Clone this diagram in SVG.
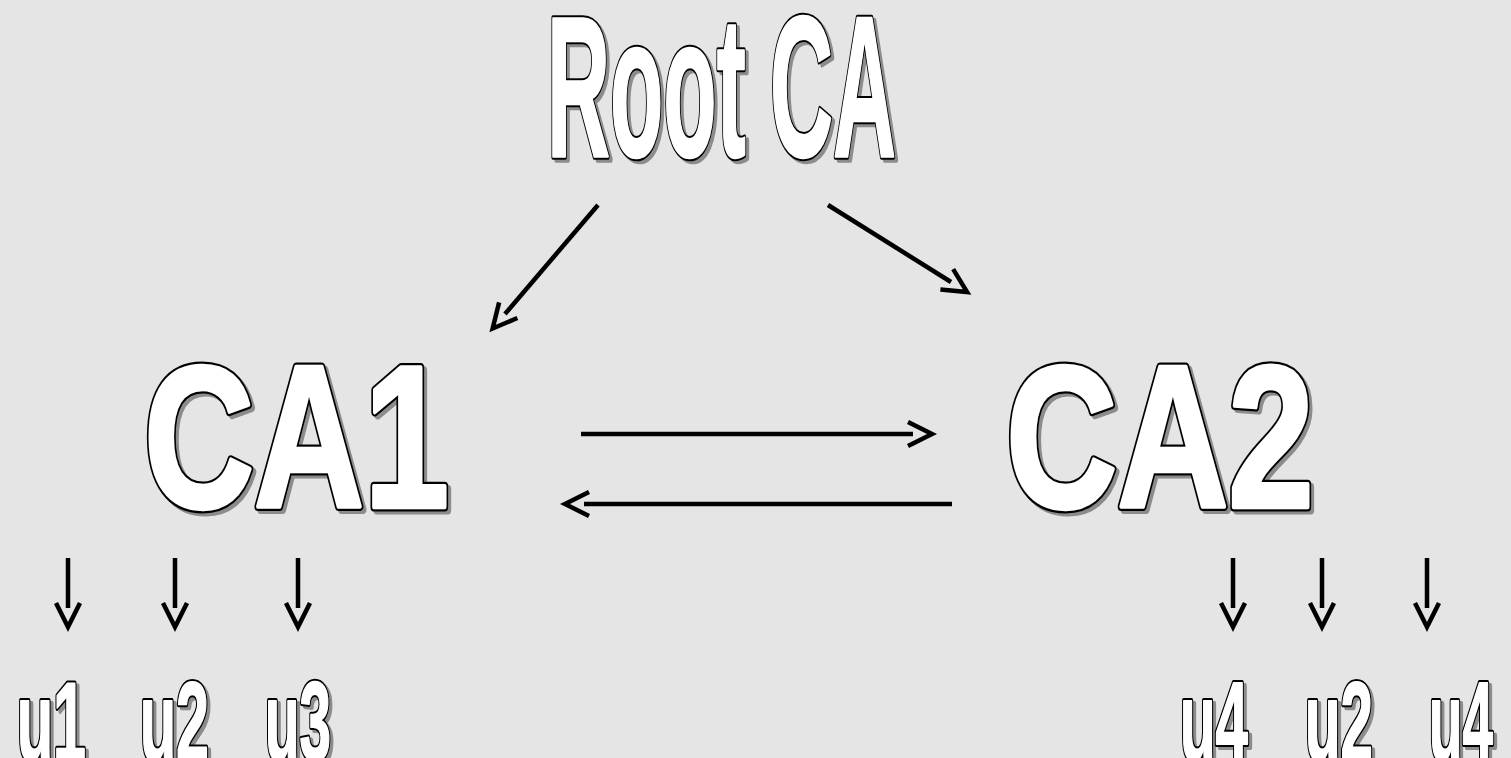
<svg xmlns="http://www.w3.org/2000/svg" xmlns:xlink="http://www.w3.org/1999/xlink" width="1511" height="758" viewBox="0 0 1511 758">
<style>
.t{font-family:"Liberation Sans",Arial,sans-serif;font-weight:bold}
.big{font-size:203px}
.root{font-size:200px}
.usr{font-size:112px}
.shd{fill:#8c8c8c;stroke:#8c8c8c;stroke-linejoin:round}
.out{fill:#000000;stroke:#000000;stroke-linejoin:round}
.fil{fill:#ffffff;stroke:#ffffff;stroke-linejoin:round}
.wb .shd,.wb .out{stroke-width:9}
.wb .fil{stroke-width:4.5}
.wr .shd,.wr .out{stroke-width:6.5}
.wr .fil{stroke-width:2.5}
.wu .shd,.wu .out{stroke-width:6}
.wu .fil{stroke-width:2}
.conn{stroke:#000000;stroke-width:4.5;fill:none;marker-end:url(#chev)}
</style>
<defs>
<marker id="chev" markerUnits="userSpaceOnUse" markerWidth="60" markerHeight="60" refX="0" refY="0" orient="auto" overflow="visible" viewBox="-30 -30 60 60">
<path d="M-5,-12 L19,0 L-5,12" fill="none" stroke="#000000" stroke-width="4.5"/>
</marker>
<text id="tRoot" class="t root" x="547" y="156" textLength="349" lengthAdjust="spacingAndGlyphs">Root CA</text>
<text id="tCA1" class="t big" x="144" y="507" textLength="305" lengthAdjust="spacingAndGlyphs">CA1</text>
<text id="tCA2" class="t big" x="1006" y="507" textLength="308" lengthAdjust="spacingAndGlyphs">CA2</text>
<text id="tU1" class="t usr" x="17" y="760" textLength="69" lengthAdjust="spacingAndGlyphs">u1</text>
<text id="tU2a" class="t usr" x="140" y="760" textLength="69" lengthAdjust="spacingAndGlyphs">u2</text>
<text id="tU3" class="t usr" x="265" y="760" textLength="66" lengthAdjust="spacingAndGlyphs">u3</text>
<text id="tU4a" class="t usr" x="1180" y="760" textLength="68" lengthAdjust="spacingAndGlyphs">u4</text>
<text id="tU2b" class="t usr" x="1305" y="760" textLength="68" lengthAdjust="spacingAndGlyphs">u2</text>
<text id="tU4b" class="t usr" x="1429" y="760" textLength="64" lengthAdjust="spacingAndGlyphs">u4</text>
</defs>
<rect width="1511" height="758" fill="#e5e5e5"/>
<g id="root" class="wr">
<use href="#tRoot" class="shd" x="3" y="3"/><use href="#tRoot" class="out"/><use href="#tRoot" class="fil"/>
</g>
<g id="ca1" class="wb">
<use href="#tCA1" class="shd" x="3" y="3"/><use href="#tCA1" class="out"/><use href="#tCA1" class="fil"/>
</g>
<g id="ca2" class="wb">
<use href="#tCA2" class="shd" x="3" y="3"/><use href="#tCA2" class="out"/><use href="#tCA2" class="fil"/>
</g>
<g id="u1" class="wu">
<use href="#tU1" class="shd" x="3" y="3"/><use href="#tU1" class="out"/><use href="#tU1" class="fil"/>
</g>
<g id="u2a" class="wu">
<use href="#tU2a" class="shd" x="3" y="3"/><use href="#tU2a" class="out"/><use href="#tU2a" class="fil"/>
</g>
<g id="u3" class="wu">
<use href="#tU3" class="shd" x="3" y="3"/><use href="#tU3" class="out"/><use href="#tU3" class="fil"/>
</g>
<g id="u4a" class="wu">
<use href="#tU4a" class="shd" x="3" y="3"/><use href="#tU4a" class="out"/><use href="#tU4a" class="fil"/>
</g>
<g id="u2b" class="wu">
<use href="#tU2b" class="shd" x="3" y="3"/><use href="#tU2b" class="out"/><use href="#tU2b" class="fil"/>
</g>
<g id="u4b" class="wu">
<use href="#tU4b" class="shd" x="3" y="3"/><use href="#tU4b" class="out"/><use href="#tU4b" class="fil"/>
</g>
<g id="connectors">
<line class="conn" x1="598" y1="205" x2="505" y2="314"/>
<line class="conn" x1="828" y1="205" x2="951" y2="282"/>
<line class="conn" x1="581" y1="434" x2="913" y2="434"/>
<line class="conn" x1="952" y1="504" x2="584" y2="504"/>
<line class="conn" x1="68" y1="558" x2="68" y2="608"/>
<line class="conn" x1="175" y1="558" x2="175" y2="608"/>
<line class="conn" x1="298" y1="558" x2="298" y2="608"/>
<line class="conn" x1="1233" y1="558" x2="1233" y2="608"/>
<line class="conn" x1="1322" y1="558" x2="1322" y2="608"/>
<line class="conn" x1="1427" y1="558" x2="1427" y2="608"/>
</g>
</svg>
